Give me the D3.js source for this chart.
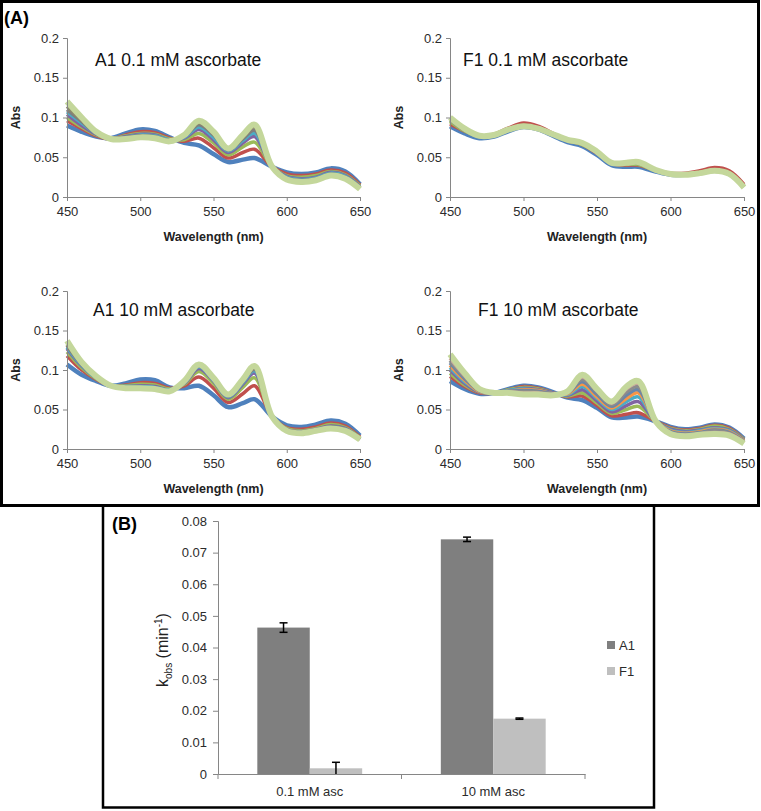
<!DOCTYPE html>
<html><head><meta charset="utf-8">
<script src="https://cdn.jsdelivr.net/npm/d3@7/dist/d3.min.js"></script>
<style>body{margin:0;background:#fff}svg{display:block}text{font-family:"Liberation Sans",Arial,sans-serif}</style>
</head><body><svg id="c" width="761" height="811"></svg>
<script>
// ---------- DATA ----------
const wavelengths = [450,460,470,480,490,500,510,520,530,540,550,560,570,578,590,600,610,620,630,640,650];
const xTicks = [450,500,550,600,650];
const absTicks = [0,0.05,0.1,0.15,0.2];

const spectraA1_01 = [
 [.090,.082,.076,.074,.080,.085,.083,.075,.068,.065,.054,.044,.047,.049,.038,.031,.029,.031,.036,.032,.016],
 [.096,.086,.077,.073,.078,.082,.081,.074,.070,.074,.062,.049,.056,.060,.038,.029,.027,.029,.034,.030,.015],
 [.100,.088,.078,.073,.077,.080,.079,.073,.072,.080,.068,.053,.063,.069,.038,.027,.025,.027,.032,.028,.014],
 [.104,.090,.079,.073,.076,.079,.078,.072,.074,.085,.072,.056,.068,.076,.038,.026,.023,.025,.031,.027,.013],
 [.107,.093,.080,.073,.075,.078,.077,.072,.075,.088,.075,.058,.071,.080,.038,.025,.022,.024,.030,.026,.012],
 [.110,.095,.080,.073,.075,.077,.076,.071,.076,.091,.078,.059,.073,.084,.038,.024,.021,.023,.029,.025,.012],
 [.114,.097,.081,.073,.074,.076,.075,.071,.077,.093,.080,.060,.075,.088,.038,.023,.020,.022,.028,.024,.011],
 [.120,.100,.082,.073,.073,.075,.074,.070,.078,.096,.082,.061,.078,.091,.038,.022,.019,.021,.027,.023,.010]
];
const spectraF1_01 = [
 [.089,.080,.074,.076,.083,.088,.085,.077,.069,.064,.053,.040,.038,.038,.032,.028,.028,.030,.033,.029,.013],
 [.092,.083,.077,.079,.087,.093,.089,.080,.071,.066,.055,.042,.040,.040,.034,.030,.030,.033,.037,.033,.016],
 [.095,.083,.076,.078,.085,.090,.087,.079,.071,.066,.056,.042,.041,.041,.033,.029,.029,.031,.034,.030,.014],
 [.097,.084,.076,.078,.085,.089,.086,.079,.071,.067,.056,.043,.042,.042,.033,.029,.028,.030,.033,.029,.013],
 [.100,.086,.077,.078,.085,.089,.086,.079,.072,.068,.057,.043,.043,.044,.034,.029,.028,.030,.033,.029,.012]
];
const spectraA1_10 = [
 [.107,.094,.086,.080,.083,.088,.087,.078,.077,.080,.068,.053,.058,.063,.041,.030,.028,.031,.036,.032,.017],
 [.118,.100,.088,.080,.081,.084,.083,.077,.080,.091,.077,.059,.070,.080,.041,.027,.025,.028,.033,.029,.015],
 [.123,.103,.089,.080,.080,.082,.081,.076,.082,.098,.083,.063,.078,.090,.041,.026,.023,.026,.031,.027,.014],
 [.127,.105,.090,.080,.079,.080,.079,.075,.083,.102,.086,.065,.082,.096,.041,.025,.022,.025,.029,.026,.013],
 [.129,.106,.090,.080,.079,.079,.078,.075,.084,.104,.087,.066,.084,.099,.041,.024,.021,.024,.028,.025,.013],
 [.131,.107,.091,.080,.078,.078,.077,.074,.085,.105,.088,.067,.085,.101,.041,.024,.021,.024,.028,.025,.013],
 [.133,.108,.091,.080,.078,.078,.077,.074,.085,.106,.089,.068,.086,.103,.041,.023,.020,.023,.027,.024,.012],
 [.137,.110,.092,.080,.077,.077,.076,.073,.086,.107,.090,.069,.088,.105,.041,.023,.020,.023,.026,.023,.012]
];
const spectraF1_10 = [
 [.086,.076,.070,.071,.076,.080,.078,.072,.065,.062,.052,.040,.040,.041,.035,.028,.025,.027,.031,.027,.013],
 [.092,.079,.071,.071,.075,.079,.077,.071,.066,.067,.055,.042,.044,.046,.035,.027,.024,.026,.030,.026,.012],
 [.096,.081,.072,.071,.075,.078,.076,.071,.067,.071,.058,.045,.050,.054,.035,.026,.023,.025,.029,.025,.012],
 [.100,.083,.072,.071,.074,.077,.075,.071,.068,.075,.061,.047,.055,.060,.035,.025,.022,.024,.027,.024,.011],
 [.103,.085,.073,.071,.074,.076,.074,.070,.069,.079,.064,.050,.060,.066,.035,.024,.021,.023,.026,.023,.010],
 [.106,.087,.073,.071,.073,.075,.074,.070,.070,.082,.066,.052,.064,.071,.035,.023,.020,.022,.025,.022,.010],
 [.109,.089,.074,.071,.073,.074,.073,.070,.071,.085,.069,.054,.068,.075,.035,.022,.019,.021,.024,.021,.009],
 [.112,.091,.074,.071,.072,.073,.072,.070,.072,.088,.072,.056,.072,.079,.035,.021,.018,.020,.023,.020,.009],
 [.115,.093,.075,.071,.072,.071,.071,.069,.072,.091,.074,.058,.076,.083,.035,.020,.017,.019,.021,.019,.008],
 [.120,.096,.076,.071,.071,.069,.069,.068,.073,.094,.076,.060,.079,.086,.035,.019,.016,.018,.019,.017,.007]
];
const colorsA1 = ["#4F81BD","#C0504D","#9BBB59","#8064A2","#4BACC6","#7F7F7F","#8C8A6A","#C4D79B"];
const colorsF1_01 = ["#4F81BD","#C0504D","#9BBB59","#8C8C8C","#C4D79B"];
const colorsF1_10 = ["#4F81BD","#C0504D","#9BBB59","#8064A2","#4BACC6","#F79646","#6A86A8","#8C8C8C","#C9A99A","#C4D79B"];
const panelTitles = ["A1 0.1 mM ascorbate","F1 0.1 mM ascorbate","A1 10 mM ascorbate","F1 10 mM ascorbate"];

const barCategories = ["0.1 mM asc","10 mM asc"];
const barSeries = ["A1","F1"];
const kobsA1 = [0.0463, 0.0742];
const kobsF1 = [0.0018, 0.0175];
const errA1 = [0.0015, 0.0007];
const errF1 = [0.0019, 0.0002];
const kTicks = [0,0.01,0.02,0.03,0.04,0.05,0.06,0.07,0.08];
const barColors = ["#7F7F7F","#BFBFBF"];

// ---------- DRAW ----------
const svg = d3.select("#c");
const axisCol = "#868686", txtCol = "#2b2b2b";

function spectrumPanel(cfg){
  const g = svg.append("g");
  const x = d3.scaleLinear().domain([450,650]).range([cfg.x0,cfg.x1]);
  const y = d3.scaleLinear().domain([0,0.2]).range([cfg.yb,cfg.yt]);
  const line = d3.line().x((d,i)=>x(wavelengths[i])).y(d=>y(d)).curve(d3.curveCatmullRom.alpha(0.5));
  cfg.data.forEach((s,i)=>{
    const last = i===cfg.data.length-1;
    g.append("path").attr("d",line(s)).attr("fill","none")
     .attr("stroke",cfg.colors[i]).attr("stroke-width", last?6:(i===0?4.5:3.5))
     .attr("stroke-linejoin","round");
  });
  const xa = g.append("g").attr("transform",`translate(0,${cfg.yb})`)
    .call(d3.axisBottom(x).tickValues(xTicks).tickSize(4).tickPadding(6).tickFormat(d3.format("d")));
  const ya = g.append("g").attr("transform",`translate(${cfg.x0},0)`)
    .call(d3.axisLeft(y).tickValues(absTicks).tickSize(4).tickPadding(4).tickFormat(d=>d===0?"0":String(d)));
  [xa,ya].forEach(a=>{
    a.select(".domain").attr("stroke",axisCol);
    a.selectAll(".tick line").attr("stroke",axisCol);
    a.selectAll(".tick text").attr("fill",txtCol).style("font-size","13px").style("font-family","Liberation Sans, Arial");
  });
  g.append("text").attr("x",(cfg.x0+cfg.x1)/2).attr("y",cfg.yb+44).attr("text-anchor","middle")
    .style("font-size","12.5px").style("font-weight","bold").attr("fill","#222").text("Wavelength (nm)");
  g.append("text").attr("transform",`translate(${cfg.x0-47},${(cfg.yt+cfg.yb)/2}) rotate(-90)`)
    .attr("text-anchor","middle").style("font-size","12.5px").style("font-weight","bold").attr("fill","#222").text("Abs");
  g.append("text").attr("x",cfg.tx).attr("y",cfg.ty).style("font-size","17.5px").attr("fill","#111").text(cfg.title);
}

spectrumPanel({x0:67,x1:360,yt:38,yb:197,data:spectraA1_01,colors:colorsA1,title:panelTitles[0],tx:95,ty:66});
spectrumPanel({x0:450,x1:744,yt:38,yb:197,data:spectraF1_01,colors:colorsF1_01,title:panelTitles[1],tx:463,ty:66});
spectrumPanel({x0:67,x1:360,yt:291,yb:449,data:spectraA1_10,colors:colorsA1,title:panelTitles[2],tx:93,ty:316});
spectrumPanel({x0:450,x1:744,yt:291,yb:449,data:spectraF1_10,colors:colorsF1_10,title:panelTitles[3],tx:478,ty:316});

// frames
svg.append("rect").attr("x",1.5).attr("y",1.5).attr("width",757).attr("height",504)
  .attr("fill","none").attr("stroke","#000").attr("stroke-width",3);
svg.append("rect").attr("x",103).attr("y",505.5).attr("width",551).attr("height",302)
  .attr("fill","none").attr("stroke","#000").attr("stroke-width",2.5);
svg.append("text").attr("x",4).attr("y",24).style("font-size","18px").style("font-weight","bold").text("(A)");
svg.append("text").attr("x",112).attr("y",530).style("font-size","18px").style("font-weight","bold").text("(B)");

// bar chart
const bx = d3.scaleBand().domain(barCategories).range([218,585]).paddingInner(0).paddingOuter(0);
const bw = bx.bandwidth()/3.5;
const sub = d3.scaleBand().domain(barSeries).range([0.75*bw, 2.75*bw]);
const by = d3.scaleLinear().domain([0,0.08]).range([774,521]);
const gb = svg.append("g");
const vals = [kobsA1,kobsF1], errs=[errA1,errF1];
barSeries.forEach((s,si)=>{
  barCategories.forEach((c,ci)=>{
    const v = vals[si][ci];
    const cx = bx(c)+sub(s);
    gb.append("rect").attr("x",cx).attr("y",by(v)).attr("width",sub.bandwidth()).attr("height",by(0)-by(v)).attr("fill",barColors[si]);
  });
});
const xb = gb.append("g").attr("transform","translate(0,774)")
  .call(d3.axisBottom(bx).tickSize(0).tickPadding(13));
xb.selectAll(".tick text").attr("fill",txtCol).style("font-size","13px");
xb.select(".domain").attr("stroke",axisCol);
const bounds = [bx.range()[0], bx(barCategories[1]), bx.range()[1]];
bounds.forEach(px=>gb.append("line").attr("x1",px).attr("x2",px).attr("y1",774).attr("y2",779).attr("stroke",axisCol));
const yb = gb.append("g").attr("transform","translate(218,0)")
  .call(d3.axisLeft(by).tickValues(kTicks).tickSize(5).tickPadding(6).tickFormat(d=>d===0?"0":d3.format(".2f")(d)));
yb.select(".domain").attr("stroke",axisCol);
yb.selectAll(".tick line").attr("stroke",axisCol);
yb.selectAll(".tick text").attr("fill",txtCol).style("font-size","13px");
// error bars
barSeries.forEach((s,si)=>{
  barCategories.forEach((c,ci)=>{
    const v = vals[si][ci], e = errs[si][ci];
    const cx = bx(c)+sub(s)+sub.bandwidth()/2;
    const lo = Math.max(0, v-e), hi = v+e;
    gb.append("line").attr("x1",cx).attr("x2",cx).attr("y1",by(lo)).attr("y2",by(hi)).attr("stroke","#000").attr("stroke-width",1.5);
    gb.append("line").attr("x1",cx-4).attr("x2",cx+4).attr("y1",by(hi)).attr("y2",by(hi)).attr("stroke","#000").attr("stroke-width",1.5);
    if (v-e>=0) gb.append("line").attr("x1",cx-4).attr("x2",cx+4).attr("y1",by(lo)).attr("y2",by(lo)).attr("stroke","#000").attr("stroke-width",1.5);
  });
});
// y label
const yl = gb.append("text").attr("transform","translate(168,650) rotate(-90)").attr("text-anchor","middle")
  .style("font-size","16px").attr("fill","#222");
yl.append("tspan").text("k");
yl.append("tspan").attr("dy",4).style("font-size","10px").text("obs");
yl.append("tspan").attr("dy",-4).text(" (min");
yl.append("tspan").attr("dy",-6).style("font-size","10px").text("-1");
yl.append("tspan").attr("dy",6).text(")");
// legend
barSeries.forEach((s,i)=>{
  const ly = 645 + i*26;
  gb.append("rect").attr("x",607).attr("y",ly-4).attr("width",8).attr("height",8).attr("fill",barColors[i]);
  gb.append("text").attr("x",619).attr("y",ly+5).style("font-size","13px").attr("fill",txtCol).text(s);
});
</script></body></html>
